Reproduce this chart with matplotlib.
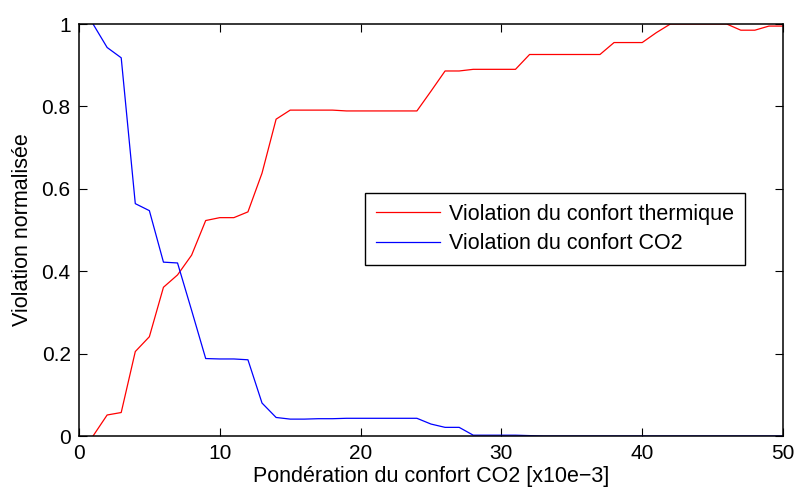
import matplotlib
matplotlib.use('Agg')
import matplotlib.pyplot as plt

# Pondération (x10e-3) et violations normalisées
ponderation = list(range(1, 51))

violation_thermique = [
    0.000, 0.051, 0.057, 0.205, 0.241, 0.361, 0.391, 0.439, 0.523, 0.530,
    0.530, 0.544, 0.638, 0.769, 0.791, 0.791, 0.791, 0.791, 0.789, 0.789,
    0.789, 0.789, 0.789, 0.789, 0.837, 0.886, 0.886, 0.890, 0.890, 0.890,
    0.890, 0.926, 0.926, 0.926, 0.926, 0.926, 0.926, 0.955, 0.955, 0.955,
    0.979, 1.000, 1.000, 1.000, 1.000, 1.000, 0.985, 0.985, 0.995, 0.995,
]

violation_co2 = [
    1.000, 0.943, 0.918, 0.564, 0.547, 0.422, 0.420, 0.305, 0.188, 0.187,
    0.187, 0.185, 0.080, 0.045, 0.041, 0.041, 0.042, 0.042, 0.043, 0.043,
    0.043, 0.043, 0.043, 0.043, 0.029, 0.021, 0.021, 0.002, 0.002, 0.002,
    0.002, 0.001, 0.000, 0.000, 0.000, 0.000, 0.000, 0.000, 0.000, 0.000,
    0.000, 0.000, 0.000, 0.000, 0.000, 0.000, 0.000, 0.000, 0.000, 0.000,
]

plt.rcParams['font.family'] = ['Liberation Sans', 'DejaVu Sans']
plt.rcParams['font.size'] = 15.5

fig = plt.figure(figsize=(7.96, 4.91), dpi=100)
ax = fig.add_axes([0.0992, 0.112, 0.8845, 0.8391])

ax.plot(ponderation, violation_thermique, color=(1, 0, 0), linewidth=0.9,
        label='Violation du confort thermique')
ax.plot(ponderation, violation_co2, color=(0, 0, 1), linewidth=0.9,
        label='Violation du confort CO2')

ax.set_xlim(0, 50)
ax.set_ylim(0, 1)
ax.set_xticks([0, 10, 20, 30, 40, 50])
ax.set_yticks([0, 0.2, 0.4, 0.6, 0.8, 1])
ax.set_yticklabels(['0', '0.2', '0.4', '0.6', '0.8', '1'])

# ticks vers l'intérieur sur les quatre côtés
ax.tick_params(direction='in', top=True, right=True, length=6, width=0.8,
               labelsize=15, pad=6)
for s in ax.spines.values():
    s.set_linewidth(1.1)
    s.set_color('black')

ax.set_xlabel('Pondération du confort CO2 [x10e\u22123]', fontsize=15.5, labelpad=2)
ax.set_ylabel('Violation normalisée', fontsize=15.5, labelpad=6)

leg = ax.legend(loc='upper left', bbox_to_anchor=(0.406, 0.59), fancybox=False,
                edgecolor='black', framealpha=1, fontsize=15.5, handlelength=3.0,
                borderpad=0.5, labelspacing=0.4, handletextpad=0.4,
                borderaxespad=0)
leg.get_frame().set_linewidth(1.0)

fig.savefig('out.png', dpi=100)
